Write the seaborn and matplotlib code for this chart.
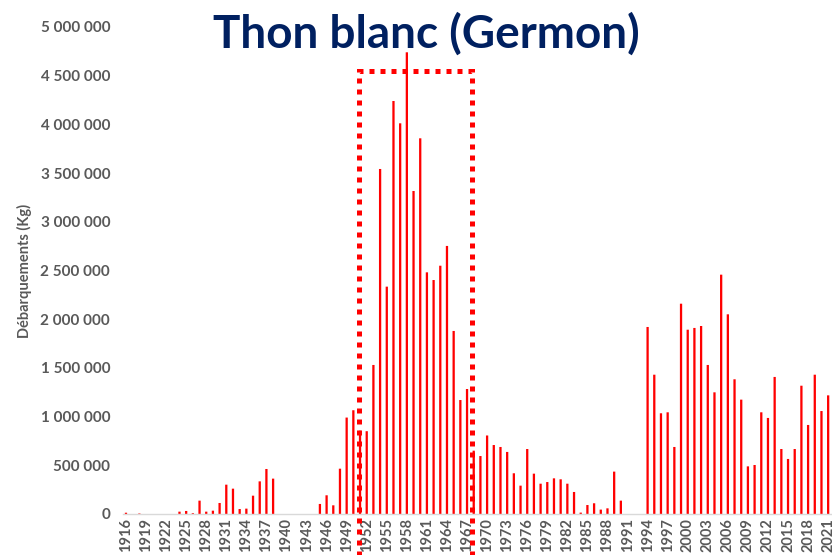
import numpy as np
import pandas as pd
import seaborn as sns
import matplotlib.pyplot as plt
from matplotlib.patches import Rectangle

# landings (kg) per year
years = list(range(1916, 2022))
landings = [
    13000, 0, 5000, 0, 0, 0, 0, 0, 24000, 31000,            # 1916-1925
    8000, 137000, 24000, 34000, 113000, 301000, 260000,     # 1926-1932
    51000, 55000, 188000, 335000, 462000, 363000,           # 1933-1938
    0, 0, 0, 0, 0, 0,                                       # 1939-1944
    103000, 192000, 89000, 465000, 990000, 1065000,         # 1945-1950
    855000, 850000, 1530000, 3542000, 2334000, 4240000,     # 1951-1956
    4011000, 4740000, 3316000, 3857000, 2481000, 2402000,   # 1957-1962
    2549000, 2752000, 1879000, 1170000, 1283000, 650000,    # 1963-1968
    595000, 806000, 708000, 688000, 637000, 418000,         # 1969-1974
    291000, 667000, 414000, 311000, 328000, 366000,         # 1975-1980
    356000, 311000, 226000, 14000, 92000, 110000,           # 1981-1986
    45000, 58000, 435000, 137000, 0, 0, 0,                  # 1987-1993
    1920000, 1430000, 1034000, 1044000, 688000, 2159000,    # 1994-1999
    1892000, 1910000, 1930000, 1530000, 1249000, 2457000,   # 2000-2005
    2050000, 1383000, 1174000, 489000, 503000, 1044000,     # 2006-2011
    986000, 1407000, 667000, 565000, 667000, 1317000,       # 2012-2017
    914000, 1430000, 1057000, 1218000,                      # 2018-2021
]
assert len(years) == len(landings)

title = "Thon blanc (Germon)"
ylabel = "Débarquements (Kg)"
yticks = list(range(0, 5000001, 500000))

# highlighted period (dotted frame)
hl_start, hl_end, hl_top = 1951, 1968, 4550000

df = pd.DataFrame({"annee": [str(y) for y in years], "kg": landings})

sns.set_theme(style="white")
plt.rcParams["font.family"] = ["Lato", "DejaVu Sans"]

fig = plt.figure(figsize=(8.32, 5.55), dpi=100)
ax = fig.add_axes([0.1474, 0.0739, 0.852, 0.8775])

sns.barplot(data=df, x="annee", y="kg", color="#FF0000", saturation=1,
            width=0.34, linewidth=0, ax=ax)
for bar in ax.patches:
    bar.set_snap(False)  # keep all bars the same width

grey = "#595959"
ax.set_ylim(0, 5000000)
ax.set_xlim(-0.5, len(years) - 0.5)
ax.set_yticks(yticks)
ax.set_yticklabels([f"{v:,}".replace(",", " ") for v in yticks],
                   fontsize=11, fontweight="bold", color=grey)
pos = list(range(0, len(years), 3))
ax.set_xticks(pos)
ax.set_xticklabels([str(years[i]) for i in pos], rotation=90,
                   fontsize=10.5, fontweight="bold", color=grey)
ax.tick_params(axis="y", length=0, pad=9)
ax.tick_params(axis="x", length=0, pad=3)
ax.set_xlabel("")
ax.set_ylabel(ylabel, fontsize=10.5, fontweight="bold", color=grey, labelpad=6)

for s in ["top", "right", "left"]:
    ax.spines[s].set_visible(False)
ax.spines["bottom"].set_color("#D9D9D9")
ax.spines["bottom"].set_linewidth(1)

x0 = years.index(hl_start) - 0.1
x1 = years.index(hl_end) - 0.3
rect = Rectangle((x0, -600000), x1 - x0, hl_top + 600000, fill=False,
                 edgecolor="#FF0000", linewidth=3.6, linestyle=(0, (1, 1.2)),
                 clip_on=False, zorder=5)
ax.add_patch(rect)

fig.text(0.512, 0.938, title, ha="center", va="center", fontsize=33,
         fontweight="bold", color="#002060")

fig.savefig("out.png", dpi=100)
